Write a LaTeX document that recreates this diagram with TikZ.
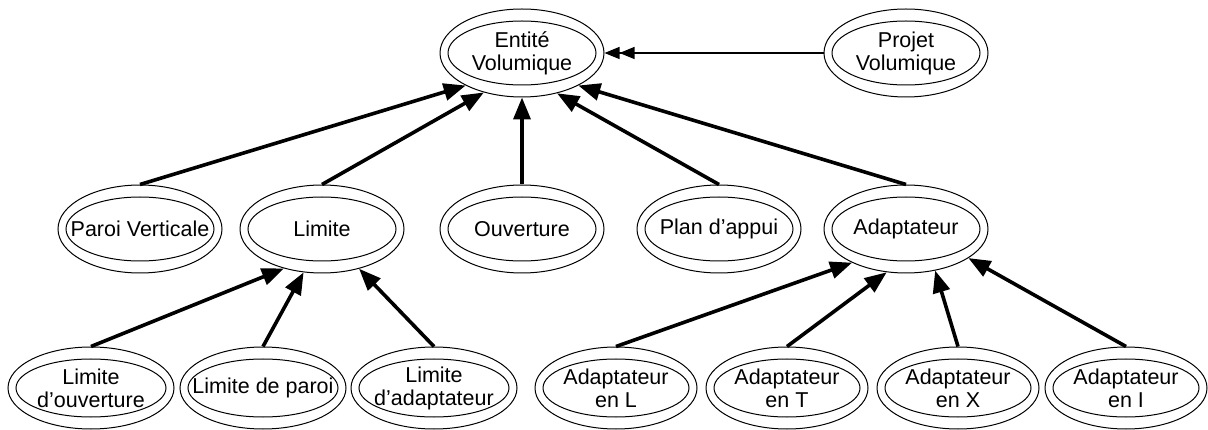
\documentclass[tikz,border=0pt]{standalone}
\usepackage{fontspec}
\setmainfont{Liberation Sans}
\usetikzlibrary{arrows.meta,shapes.geometric}
\newcommand\ellnode[6]{%
  \node[outerell,minimum width={2*#4pt},minimum height={2*#5pt}] (#1) at (#2,#3) {};
  \draw[innerell] (#1.center) ellipse[x radius={#4-8}, y radius={#5-12}];
  \node[lbl] at (#1.center) {#6};}
\begin{document}
\begin{tikzpicture}[x=1pt,y=-1pt,
  outerell/.style={ellipse,draw,line width=1pt,inner sep=0pt},
  innerell/.style={line width=1pt},
  lbl/.style={align=center,font=\fontsize{21.5}{23}\selectfont,inner sep=0pt},
  arr/.style={line width=3.6pt,-{Triangle[length=22pt,width=17pt]}},
  thinarr/.style={line width=1.2pt,-{Triangle[length=15pt,width=12pt]Triangle[length=15pt,width=12pt]}}]
\useasboundingbox (0,0) rectangle (1208,430);
% level 1
\ellnode{ent}{522}{53}{82}{44}{Entité\\Volumique}
\ellnode{proj}{906}{53}{82}{44}{Projet\\Volumique}
% level 2
\ellnode{par}{140}{229}{82}{44}{Paroi Verticale}
\ellnode{lim}{322}{229}{82}{44}{Limite}
\ellnode{ouv}{522}{229}{82}{44}{Ouverture}
\ellnode{plan}{719}{229}{82}{44}{Plan d’appui}
\ellnode{adap}{906}{229}{82}{44}{Adaptateur}
% level 3
\ellnode{lo}{91}{388}{83}{41}{Limite\\d’ouverture}
\ellnode{lp}{263}{388}{83}{41}{Limite de paroi}
\ellnode{la}{434}{388}{83}{41}{Limite\\d’adaptateur}
\ellnode{al}{616}{388}{81}{41}{Adaptateur\\en L}
\ellnode{at}{787}{388}{81}{41}{Adaptateur\\en T}
\ellnode{ax}{958}{388}{81}{41}{Adaptateur\\en X}
\ellnode{ai}{1126}{388}{81}{41}{Adaptateur\\en I}
% connectors
\draw[thinarr] (proj.west) -- (ent.east);
\draw[arr] (par.north) -- (ent.210);
\draw[arr] (lim.north) -- (ent.226);
\draw[arr] (ouv.north) -- (ent.south);
\draw[arr] (plan.north) -- (ent.311);
\draw[arr] (adap.north) -- (ent.330);
\draw[arr] (lo.north) -- (lim.226);
\draw[arr] (lp.north) -- (lim.247);
\draw[arr] (la.north) -- (lim.313);
\draw[arr] (al.north) -- (adap.212);
\draw[arr] (at.north) -- (adap.246);
\draw[arr] (ax.north) -- (adap.305);
\draw[arr] (ai.north) -- (adap.335);
\end{tikzpicture}
\end{document}
